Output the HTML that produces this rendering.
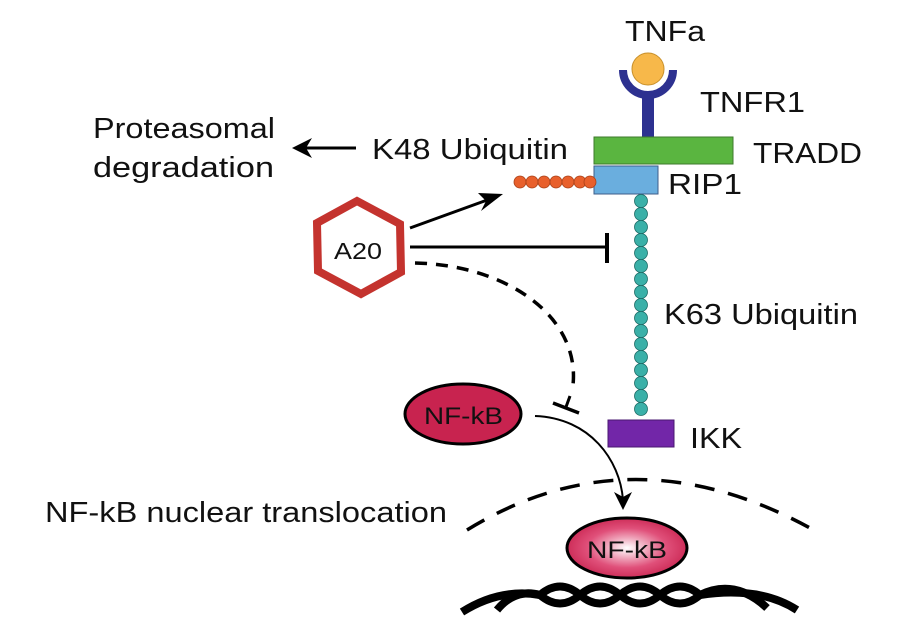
<!DOCTYPE html>
<html><head><style>
body{margin:0;background:#fff;}
svg{display:block;}
text{font-family:"Liberation Sans",sans-serif;fill:#111;}
</style></head><body>
<svg width="904" height="642" viewBox="0 0 904 642" xmlns="http://www.w3.org/2000/svg">
<defs>
<radialGradient id="g1" cx="50%" cy="50%" r="55%"><stop offset="0" stop-color="#fff"/><stop offset="0.6" stop-color="#e0507a"/><stop offset="1" stop-color="#c8234f"/></radialGradient>
</defs>
<text x="93" y="138" font-size="29" textLength="182" lengthAdjust="spacingAndGlyphs">Proteasomal</text>
<text x="93" y="177" font-size="29" textLength="181" lengthAdjust="spacingAndGlyphs">degradation</text>
<text x="372" y="159" font-size="29" textLength="196" lengthAdjust="spacingAndGlyphs">K48 Ubiquitin</text>
<text x="625" y="41" font-size="29" textLength="80" lengthAdjust="spacingAndGlyphs">TNFa</text>
<text x="700" y="112" font-size="29" textLength="105" lengthAdjust="spacingAndGlyphs">TNFR1</text>
<text x="753" y="163" font-size="29" textLength="109" lengthAdjust="spacingAndGlyphs">TRADD</text>
<text x="668" y="194" font-size="29" textLength="74" lengthAdjust="spacingAndGlyphs">RIP1</text>
<text x="664" y="324" font-size="29" textLength="194" lengthAdjust="spacingAndGlyphs">K63 Ubiquitin</text>
<text x="690" y="448" font-size="29" textLength="52" lengthAdjust="spacingAndGlyphs">IKK</text>
<text x="45" y="522" font-size="29" textLength="402" lengthAdjust="spacingAndGlyphs">NF-kB nuclear translocation</text>
<line x1="356" y1="148" x2="300" y2="148" stroke="#000" stroke-width="3"/>
<path d="M292,148 L312,138 L306,148 L312,158 z" fill="#000"/>
<circle cx="648" cy="69" r="16" fill="#f7b84a" stroke="#c8902a" stroke-width="1"/>
<path d="M623,70 A25,25 0 0 0 673,70" fill="none" stroke="#2d3190" stroke-width="8"/>
<rect x="642" y="94" width="12" height="44" fill="#2d3190"/>
<rect x="594" y="137" width="139" height="27" fill="#5ab540" stroke="#3d7a2b" stroke-width="1"/>
<rect x="594" y="166" width="64" height="28" fill="#6aaede" stroke="#3f5e8a" stroke-width="1"/>
<g fill="#e8602c" stroke="#a84018" stroke-width="0.8">
<circle cx="520" cy="182" r="6"/><circle cx="532" cy="182" r="6"/><circle cx="544" cy="182" r="6"/><circle cx="556" cy="182" r="6"/><circle cx="568" cy="182" r="6"/><circle cx="580" cy="182" r="6"/><circle cx="590" cy="182" r="6"/>
</g>
<g fill="#3ab0a8" stroke="#1d6b66" stroke-width="0.8">
<circle cx="641" cy="201" r="6.5"/><circle cx="641" cy="214" r="6.5"/><circle cx="641" cy="227" r="6.5"/><circle cx="641" cy="240" r="6.5"/><circle cx="641" cy="253" r="6.5"/><circle cx="641" cy="266" r="6.5"/><circle cx="641" cy="279" r="6.5"/><circle cx="641" cy="292" r="6.5"/><circle cx="641" cy="305" r="6.5"/><circle cx="641" cy="318" r="6.5"/><circle cx="641" cy="331" r="6.5"/><circle cx="641" cy="344" r="6.5"/><circle cx="641" cy="357" r="6.5"/><circle cx="641" cy="370" r="6.5"/><circle cx="641" cy="383" r="6.5"/><circle cx="641" cy="396" r="6.5"/><circle cx="641" cy="409" r="6.5"/>
</g>
<rect x="608" y="420" width="66" height="27" fill="#7226a8" stroke="#4a1870" stroke-width="1"/>
<polygon points="357,201 400,224 401,272 361,294 318,271 317,223" fill="#fff" stroke="#c4332e" stroke-width="8" stroke-linejoin="miter"/>
<text x="334" y="259" font-size="23" textLength="48" lengthAdjust="spacingAndGlyphs">A20</text>
<line x1="410" y1="228" x2="490" y2="199" stroke="#000" stroke-width="3"/>
<path d="M503,194 L478,193 L486,201 L481,211 z" fill="#000"/>
<line x1="410" y1="247" x2="605" y2="247" stroke="#000" stroke-width="3"/>
<line x1="607" y1="233" x2="607" y2="263" stroke="#000" stroke-width="4"/>
<path d="M415,263 C510,265 585,320 572,392" fill="none" stroke="#000" stroke-width="3.5" stroke-dasharray="12,9"/>
<line x1="570" y1="396" x2="566" y2="407" stroke="#000" stroke-width="3"/>
<line x1="553" y1="403" x2="579" y2="413" stroke="#000" stroke-width="3.5"/>
<ellipse cx="463" cy="414" rx="58" ry="30" fill="#c8234f" stroke="#000" stroke-width="3"/>
<text x="424" y="424" font-size="24" textLength="79" lengthAdjust="spacingAndGlyphs">NF-kB</text>
<path d="M535,416 C590,418 620,460 623,500" fill="none" stroke="#000" stroke-width="2"/>
<path d="M623,510 L614,492 L623,497 L632,492 z" fill="#000"/>
<path d="M467,530 Q630,430 810,528" fill="none" stroke="#000" stroke-width="3.5" stroke-dasharray="20,14"/>
<ellipse cx="627" cy="548" rx="60" ry="30" fill="url(#g1)" stroke="#000" stroke-width="3"/>
<text x="587" y="558" font-size="24" textLength="80" lengthAdjust="spacingAndGlyphs">NF-kB</text>
<g fill="none" stroke="#000" stroke-width="8">
<path d="M462,612 Q500,588 540,595 Q560,612 580,595 Q600,578 620,595 Q640,612 660,595 Q680,578 700,595 Q760,586 797,610"/>
<path d="M497,610 Q515,588 540,595 Q560,578 580,595 Q600,612 620,595 Q640,578 660,595 Q680,612 700,595 Q735,578 767,608"/>
</g>
</svg>
</body></html>
